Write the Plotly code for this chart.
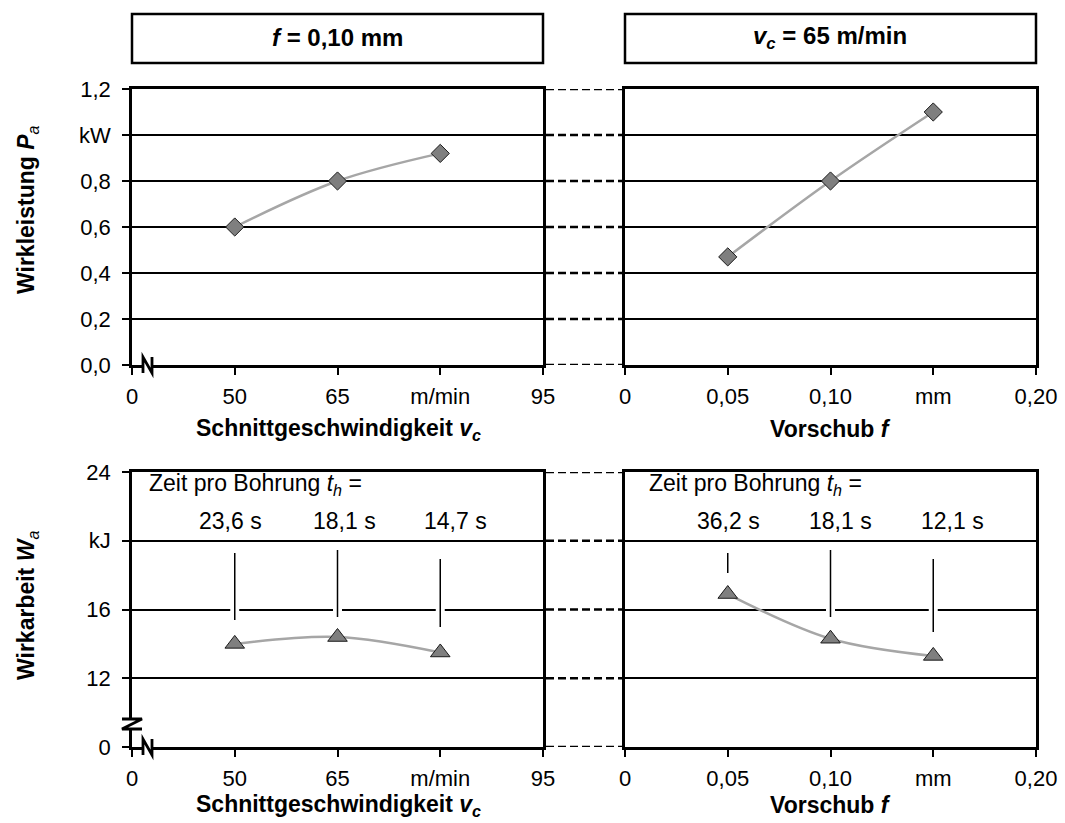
import plotly.graph_objects as go

# ---- data -------------------------------------------------------------
vc = [50, 65, 80]                 # Schnittgeschwindigkeit, m/min
feed = [0.05, 0.10, 0.15]         # Vorschub, mm
power_vc = [0.60, 0.80, 0.92]     # Wirkleistung, kW (f = 0,10 mm)
power_f = [0.47, 0.80, 1.10]      # Wirkleistung, kW (vc = 65 m/min)
work_vc = [14.0, 14.4, 13.5]      # Wirkarbeit, kJ (f = 0,10 mm)
work_f = [16.9, 14.3, 13.3]       # Wirkarbeit, kJ (vc = 65 m/min)
th_vc = ["23,6 s", "18,1 s", "14,7 s"]
th_f = ["36,2 s", "18,1 s", "12,1 s"]

vc_ticks = [35, 50, 65, 80, 95]
vc_ticktext = ["0", "50", "65", "m/min", "95"]
f_ticks = [0, 0.05, 0.10, 0.15, 0.20]
f_ticktext = ["0", "0,05", "0,10", "mm", "0,20"]
p_ticks = [0, 0.2, 0.4, 0.6, 0.8, 1.0, 1.2]
p_ticktext = ["0,0", "0,2", "0,4", "0,6", "0,8", "kW", "1,2"]
w_ticks = [8, 12, 16, 20, 24]
w_ticktext = ["0", "12", "16", "kJ", "24"]

# ---- page geometry (pixels -> paper) ------------------------------------
W, H = 1065, 823
FONT = "Liberation Sans, Arial, sans-serif"
FS = 22


def fx(p):
    return p / W


def fy(p):
    return 1 - p / H


LEFT = (132, 543)
RIGHT = (625, 1036)
TOP = (89, 365)
BOTTOM = (472, 747)

fig = go.Figure()

marker_line = dict(color="#1a1a1a", width=1)
line_style = dict(color="#a6a6a6", width=2.5, shape="spline")
diamond = dict(symbol="diamond", size=14, color="#7f7f7f", line=marker_line)
triangle = dict(symbol="triangle-up", size=17, color="#7f7f7f", line=marker_line)

fig.add_trace(go.Scatter(x=vc, y=power_vc, mode="lines+markers", line=line_style,
                         marker=diamond, xaxis="x", yaxis="y", showlegend=False))
fig.add_trace(go.Scatter(x=feed, y=power_f, mode="lines+markers", line=line_style,
                         marker=diamond, xaxis="x2", yaxis="y2", showlegend=False))
fig.add_trace(go.Scatter(x=vc, y=work_vc, mode="lines+markers", line=line_style,
                         marker=triangle, xaxis="x3", yaxis="y3", showlegend=False))
fig.add_trace(go.Scatter(x=feed, y=work_f, mode="lines+markers", line=line_style,
                         marker=triangle, xaxis="x4", yaxis="y4", showlegend=False))

tickfont = dict(family=FONT, size=FS, color="black")


def xaxis(dom, rng, tv, tt, anchor):
    return dict(domain=[fx(dom[0]), fx(dom[1])], range=rng, tickvals=tv, ticktext=tt,
                anchor=anchor, showline=True, mirror=True, linecolor="black", linewidth=2.5,
                showgrid=False, zeroline=False, ticks="outside", ticklen=7, tickwidth=2,
                tickcolor="black", tickfont=tickfont, ticklabelstandoff=3,
                automargin=False, fixedrange=True)


def yaxis(dom, rng, tv, tt, anchor, labels):
    return dict(domain=[fy(dom[1]), fy(dom[0])], range=rng, tickvals=tv, ticktext=tt,
                anchor=anchor, showline=True, mirror=True, linecolor="black", linewidth=2.5,
                showgrid=True, gridcolor="black", gridwidth=2.3, zeroline=False,
                ticks="outside" if labels else "", ticklen=7, tickwidth=2, tickcolor="black",
                showticklabels=labels, tickfont=tickfont, ticklabelstandoff=7,
                automargin=False, fixedrange=True)


fig.update_layout(
    width=W, height=H, margin=dict(l=0, r=0, t=0, b=0, pad=0), autosize=False,
    paper_bgcolor="white", plot_bgcolor="white",
    xaxis=xaxis(LEFT, [35, 95], vc_ticks, vc_ticktext, "y"),
    yaxis=yaxis(TOP, [0, 1.2], p_ticks, p_ticktext, "x", True),
    xaxis2=xaxis(RIGHT, [0, 0.2], f_ticks, f_ticktext, "y2"),
    yaxis2=yaxis(TOP, [0, 1.2], p_ticks, p_ticktext, "x2", False),
    xaxis3=xaxis(LEFT, [35, 95], vc_ticks, vc_ticktext, "y3"),
    yaxis3=yaxis(BOTTOM, [8, 24], w_ticks, w_ticktext, "x3", True),
    xaxis4=xaxis(RIGHT, [0, 0.2], f_ticks, f_ticktext, "y4"),
    yaxis4=yaxis(BOTTOM, [8, 24], w_ticks, w_ticktext, "x4", False),
    font=dict(family=FONT, size=FS, color="black"),
)

shapes = []
# dashed connectors between the left and right panels
for v in p_ticks:
    shapes.append(dict(type="line", xref="paper", yref="y", x0=fx(546), x1=fx(622), y0=v, y1=v,
                       line=dict(color="black", width=2.3, dash="8px,4px")))
for v in w_ticks:
    shapes.append(dict(type="line", xref="paper", yref="y3", x0=fx(546), x1=fx(622), y0=v, y1=v,
                       line=dict(color="black", width=2.3, dash="8px,4px")))

# header boxes
for x0, x1 in (LEFT, RIGHT):
    shapes.append(dict(type="rect", xref="paper", yref="paper", x0=fx(x0), x1=fx(x1),
                       y0=fy(63), y1=fy(14), line=dict(color="black", width=2.5),
                       fillcolor="white"))


# axis break symbols
def brk_x(ypix):
    shapes.append(dict(type="rect", xref="paper", yref="paper", x0=fx(143), x1=fx(152),
                       y0=fy(ypix + 3), y1=fy(ypix - 3), line=dict(width=0), fillcolor="white"))
    shapes.append(dict(type="path", xref="paper", yref="paper",
                       path=f"M {fx(143)},{fy(ypix + 8)} L {fx(143)},{fy(ypix - 8)} "
                            f"L {fx(152)},{fy(ypix + 8)} L {fx(152)},{fy(ypix - 8)}",
                       line=dict(color="black", width=2.8)))


brk_x(TOP[1])
brk_x(BOTTOM[1])
shapes.append(dict(type="rect", xref="paper", yref="paper", x0=fx(128), x1=fx(136),
                   y0=fy(729), y1=fy(719), line=dict(width=0), fillcolor="white"))
shapes.append(dict(type="path", xref="paper", yref="paper",
                   path=f"M {fx(122)},{fy(719)} L {fx(142)},{fy(719)} "
                        f"L {fx(122)},{fy(729)} L {fx(142)},{fy(729)}",
                   line=dict(color="black", width=2.8)))

# leader lines from the time labels, with a small gap in the 16 kJ grid line
leaders_vc = [(553, 620), (550, 617), (559, 627)]
leaders_f = [(553, 573), (550, 617), (559, 632)]
for xs, spans, xr in ((vc, leaders_vc, "x3"), (feed, leaders_f, "x4")):
    for xv, (a, b) in zip(xs, spans):
        if b > 612:
            shapes.append(dict(type="line", xref=xr, yref="paper", x0=xv, x1=xv,
                               y0=fy(605), y1=fy(613), line=dict(color="white", width=9)))
        shapes.append(dict(type="line", xref=xr, yref="paper", x0=xv, x1=xv,
                           y0=fy(b), y1=fy(a), line=dict(color="black", width=1.5)))

fig.update_layout(shapes=shapes)

ann = []


def text(x, y, s, size=FS, **kw):
    d = dict(xref="paper", yref="paper", x=fx(x), y=fy(y), text=s, showarrow=False,
             font=dict(family=FONT, size=size, color="black"), xanchor="center",
             yanchor="middle")
    d.update(kw)
    ann.append(d)


text(337, 38, "<b><i>f</i> = 0,10 mm</b>", size=24)
text(830, 38, "<b><i>v<sub>c</sub></i> = 65 m/min</b>", size=24)
text(27, 210, "<b>Wirkleistung <i>P</i></b><sub><i>a</i></sub>", size=23, textangle=-90)
text(27, 606, "<b>Wirkarbeit <i>W</i></b><sub><i>a</i></sub>", size=23, textangle=-90)
for yy in (429, 805):
    text(338, yy, "<b>Schnittgeschwindigkeit <i>v<sub>c</sub></i></b>", size=23)
    text(830, yy, "<b>Vorschub <i>f</i></b>", size=23)

text(147, 484, "Zeit pro Bohrung <i>t<sub>h</sub></i> =", size=23, xanchor="left")
text(647, 484, "Zeit pro Bohrung <i>t<sub>h</sub></i> =", size=23, xanchor="left")
for lbl, xp in zip(th_vc, (230, 344, 455)):
    text(xp, 521, lbl, size=23)
for lbl, xp in zip(th_f, (728, 840, 952)):
    text(xp, 521, lbl, size=23)

fig.update_layout(annotations=ann)

fig.write_html(
    "out.html",
    post_script="document.body.style.margin='0';document.body.style.overflow='hidden';",
)
